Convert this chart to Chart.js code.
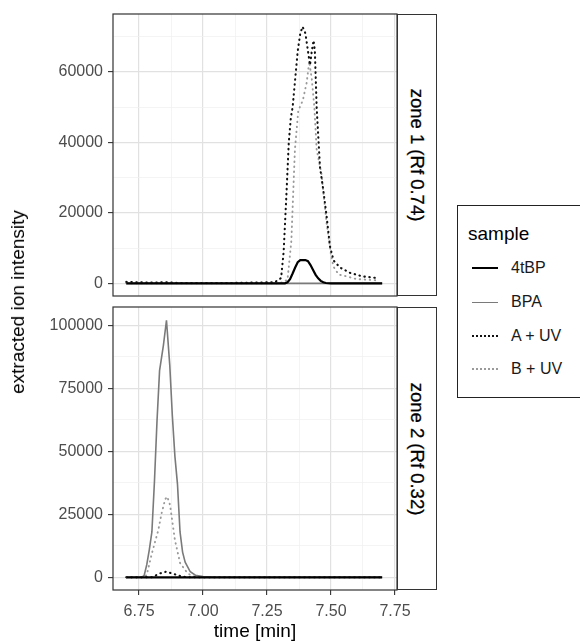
<!DOCTYPE html>
<html>
<head>
<meta charset="utf-8">
<script src="https://cdn.jsdelivr.net/npm/chart.js@4/dist/chart.umd.min.js"></script>
<style>
  body {
    margin: 0;
    width: 580px;
    height: 644px;
    background: #fff;
    position: relative;
    overflow: hidden;
    font-family: "Liberation Sans", Arial, sans-serif;
  }
  canvas { position: absolute; left: 0; }
  .strip {
    position: absolute;
    left: 397px;
    width: 40px;
    box-sizing: border-box;
    border: 1.2px solid #333;
    background: #fff;
    display: flex;
    align-items: center;
    justify-content: center;
  }
  .strip span {
    transform: rotate(90deg);
    white-space: nowrap;
    font-size: 18.5px;
    color: #000;
    -webkit-text-stroke: 0.3px #000;
  }
  #ytitle {
    position: absolute;
    left: 18px;
    top: 302px;
    transform: translate(-50%, -50%) rotate(-90deg);
    white-space: nowrap;
    font-size: 19px;
    color: #000;
  }
  #legend {
    position: absolute;
    left: 457px;
    top: 205px;
    width: 140px;
    height: 193px;
    box-sizing: border-box;
    border: 1.5px solid #222;
  }
  #legend .title {
    position: absolute;
    left: 10px;
    top: 17px;
    font-size: 19px;
    color: #000;
  }
  #legend .item {
    position: absolute;
    left: 14px;
    height: 20px;
    display: flex;
    align-items: center;
    font-size: 16px;
    color: #1a1a1a;
  }
  #legend .key { width: 26px; margin-right: 13px; }
</style>
</head>
<body>
<canvas id="zone1Chart" width="420" height="300" style="top:0"></canvas>
<canvas id="zone2Chart" width="420" height="344" style="top:300px"></canvas>
<div class="strip" style="top:14px;height:282px"><span>zone 1 (Rf 0.74)</span></div>
<div class="strip" style="top:307px;height:283px"><span>zone 2 (Rf 0.32)</span></div>
<div id="ytitle">extracted ion intensity</div>
<div id="legend"><div class="title">sample</div></div>
<script>
  // ====
  // Data
  // ====
  const SAMPLES = ["4tBP", "BPA", "A + UV", "B + UV"];

  const X_TICKS = [6.75, 7.0, 7.25, 7.5, 7.75];
  const X_MINOR = [6.875, 7.125, 7.375, 7.625];

  const ZONE1_Y_TICKS = [0, 20000, 40000, 60000];
  const ZONE1_Y_MINOR = [10000, 30000, 50000, 70000];
  const ZONE2_Y_TICKS = [0, 25000, 50000, 75000, 100000];
  const ZONE2_Y_MINOR = [12500, 37500, 62500, 87500];

  // zone 1 (Rf 0.74)
  const z1_4tBP_time = [6.7, 7.32, 7.33, 7.34, 7.35, 7.36, 7.37, 7.38, 7.39, 7.4, 7.41, 7.42, 7.43, 7.44, 7.45, 7.46, 7.47, 7.48, 7.5, 7.7];
  const z1_4tBP_int = [0, 0, 300, 1200, 2800, 4500, 6000, 6600, 6600, 6600, 6300, 5200, 3800, 2400, 1400, 700, 300, 100, 0, 0];
  const z1_BPA_time = [6.7, 7.0, 7.3, 7.7];
  const z1_BPA_int = [0, 0, 0, 0];
  const z1_AUV_time = [6.7, 6.75, 6.8, 6.85, 6.9, 7.0, 7.1, 7.2, 7.28, 7.305, 7.315, 7.325, 7.335, 7.343, 7.35, 7.36, 7.37, 7.38, 7.389, 7.4, 7.41, 7.418, 7.425, 7.432, 7.437, 7.444, 7.457, 7.469, 7.483, 7.496, 7.51, 7.535, 7.574, 7.62, 7.68];
  const z1_AUV_int = [400, 300, 200, 300, 100, 100, 100, 200, 300, 1500, 9000, 24000, 40000, 47000, 50000, 58000, 66000, 71000, 72900, 71000, 66000, 62000, 66000, 69000, 66000, 50000, 33000, 27000, 19000, 10500, 6500, 4500, 3000, 2000, 1500];
  const z1_BUV_time = [6.7, 7.0, 7.3, 7.33, 7.345, 7.359, 7.372, 7.39, 7.405, 7.415, 7.425, 7.435, 7.444, 7.463, 7.483, 7.5, 7.51, 7.53, 7.56, 7.6, 7.65, 7.69];
  const z1_BUV_int = [0, 0, 0, 1000, 12000, 38000, 49000, 52000, 57000, 63000, 58000, 50000, 38000, 31000, 17000, 8000, 4700, 2500, 2000, 1200, 1000, 800];

  // zone 2 (Rf 0.32)
  const z2_4tBP_time = [6.7, 7.0, 7.3, 7.7];
  const z2_4tBP_int = [0, 0, 0, 0];
  const z2_BPA_time = [6.7, 6.76, 6.77, 6.78, 6.79, 6.8, 6.81, 6.82, 6.83, 6.845, 6.857, 6.87, 6.88, 6.89, 6.9, 6.91, 6.92, 6.93, 6.95, 6.97, 7.0, 7.05, 7.7];
  const z2_BPA_int = [0, 0, 800, 5000, 11000, 18000, 38000, 62000, 82000, 92000, 102000, 84000, 64000, 48000, 37000, 18000, 10000, 6000, 2200, 800, 300, 0, 0];
  const z2_AUV_time = [6.7, 6.8, 6.83, 6.855, 6.88, 6.92, 6.95, 7.7];
  const z2_AUV_int = [0, 0, 1500, 2200, 1500, 200, 0, 0];
  const z2_BUV_time = [6.7, 6.77, 6.78, 6.8, 6.825, 6.838, 6.852, 6.86, 6.871, 6.88, 6.89, 6.91, 6.94, 6.97, 7.7];
  const z2_BUV_int = [0, 0, 1000, 9500, 18700, 25400, 31000, 32000, 28700, 22000, 14800, 5700, 1500, 0, 0];

  // ======
  // Styles
  // ======
  const SERIES_STYLE = {
    "4tBP": { borderColor: "#000", borderWidth: 2.2 },
    "BPA": { borderColor: "#7a7a7a", borderWidth: 1.6 },
    "A + UV": { borderColor: "#111", borderWidth: 2.1, borderDash: [0.5, 4.5], borderCapStyle: "round" },
    "B + UV": { borderColor: "#9a9a9a", borderWidth: 1.9, borderDash: [0.5, 4.5], borderCapStyle: "round" },
  };

  const TICK_FONT = { family: "Liberation Sans, Arial, sans-serif", size: 16 };
  const TICK_COLOR = "#4d4d4d";

  const toPoints = (time, values) => time.map((t, i) => ({ x: t, y: values[i] }));

  const makeDatasets = (seriesList) =>
    seriesList.map(([name, time, values]) => ({
      label: name,
      data: toPoints(time, values),
      pointRadius: 0,
      tension: 0,
      fill: false,
      ...SERIES_STYLE[name],
    }));

  // panel box like ggplot theme_bw
  const panelBorder = {
    id: "panelBorder",
    afterDraw(chart) {
      const { ctx, chartArea } = chart;
      ctx.save();
      ctx.strokeStyle = "#333";
      ctx.lineWidth = 1.2;
      ctx.strokeRect(chartArea.left, chartArea.top, chartArea.right - chartArea.left, chartArea.bottom - chartArea.top);
      ctx.restore();
    },
  };

  // no automatic label overflow padding, the panel sizes are fixed
  const noPadding = (scale) => {
    scale.paddingLeft = 0;
    scale.paddingRight = 0;
    scale.paddingTop = 0;
    scale.paddingBottom = 0;
  };

  const gridScale = (majors, minors, extra) => ({
    type: "linear",
    afterBuildTicks: (scale) => {
      scale.ticks = [...majors, ...minors]
        .filter((v) => v >= scale.min && v <= scale.max)
        .sort((a, b) => a - b)
        .map((v) => ({ value: v }));
    },
    grid: {
      color: (c) => (majors.includes(c.tick && c.tick.value) ? "#e1e1e1" : "#efefef"),
      lineWidth: (c) => (majors.includes(c.tick && c.tick.value) ? 1.2 : 0.7),
      tickColor: (c) => (majors.includes(c.tick && c.tick.value) ? "#333" : "rgba(0,0,0,0)"),
      tickLength: 5,
      tickWidth: 1.1,
    },
    border: { display: false },
    ...extra,
  });

  const buildChart = (canvasId, datasets, yMin, yMax, yMajor, yMinor, showX, padding) => {
    const xScale = gridScale(X_TICKS, X_MINOR, {
      min: 6.648,
      max: 7.758,
      ticks: {
        display: showX,
        autoSkip: false,
        maxRotation: 0,
        padding: 7,
        color: TICK_COLOR,
        font: TICK_FONT,
        callback: (v) => (X_TICKS.includes(v) ? v.toFixed(2) : ""),
      },
      title: {
        display: showX,
        text: "time [min]",
        color: "#000",
        font: { family: "Liberation Sans, Arial, sans-serif", size: 19 },
        padding: { top: 0, bottom: 1 },
      },
      afterFit: (scale) => {
        scale.height = showX ? 54 : 0;
        noPadding(scale);
      },
    });
    if (!showX) xScale.grid.drawTicks = false;

    const yScale = gridScale(yMajor, yMinor, {
      min: yMin,
      max: yMax,
      ticks: {
        autoSkip: false,
        padding: 5,
        color: TICK_COLOR,
        font: TICK_FONT,
        callback: (v) => (yMajor.includes(v) ? String(v) : ""),
      },
      afterFit: (scale) => {
        scale.width = 113;
        noPadding(scale);
      },
    });

    return new Chart(document.getElementById(canvasId), {
      type: "line",
      data: { datasets },
      options: {
        responsive: false,
        animation: false,
        layout: { padding },
        scales: { x: xScale, y: yScale },
        plugins: {
          legend: { display: false },
          tooltip: { enabled: false },
        },
      },
      plugins: [panelBorder],
    });
  };

  buildChart(
    "zone1Chart",
    makeDatasets([
      ["4tBP", z1_4tBP_time, z1_4tBP_int],
      ["BPA", z1_BPA_time, z1_BPA_int],
      ["A + UV", z1_AUV_time, z1_AUV_int],
      ["B + UV", z1_BUV_time, z1_BUV_int],
    ]),
    -3600, 76500, ZONE1_Y_TICKS, ZONE1_Y_MINOR, false,
    { top: 14, right: 23, bottom: 4, left: 0 },
  );

  buildChart(
    "zone2Chart",
    makeDatasets([
      ["4tBP", z2_4tBP_time, z2_4tBP_int],
      ["BPA", z2_BPA_time, z2_BPA_int],
      ["A + UV", z2_AUV_time, z2_AUV_int],
      ["B + UV", z2_BUV_time, z2_BUV_int],
    ]),
    -5040, 107260, ZONE2_Y_TICKS, ZONE2_Y_MINOR, true,
    { top: 7, right: 23, bottom: 0, left: 0 },
  );

  // ======
  // Legend
  // ======
  const legendEl = document.getElementById("legend");
  const LEGEND_ROWS = [52, 86, 120, 153];
  SAMPLES.forEach((name, i) => {
    const st = SERIES_STYLE[name];
    const row = document.createElement("div");
    row.className = "item";
    row.style.top = LEGEND_ROWS[i] + "px";
    const key = document.createElement("div");
    key.className = "key";
    const dotted = !!st.borderDash;
    key.style.borderTop = `${dotted ? 2 : st.borderWidth}px ${dotted ? "dotted" : "solid"} ${st.borderColor}`;
    row.appendChild(key);
    row.appendChild(document.createTextNode(name));
    legendEl.appendChild(row);
  });
</script>
</body>
</html>
